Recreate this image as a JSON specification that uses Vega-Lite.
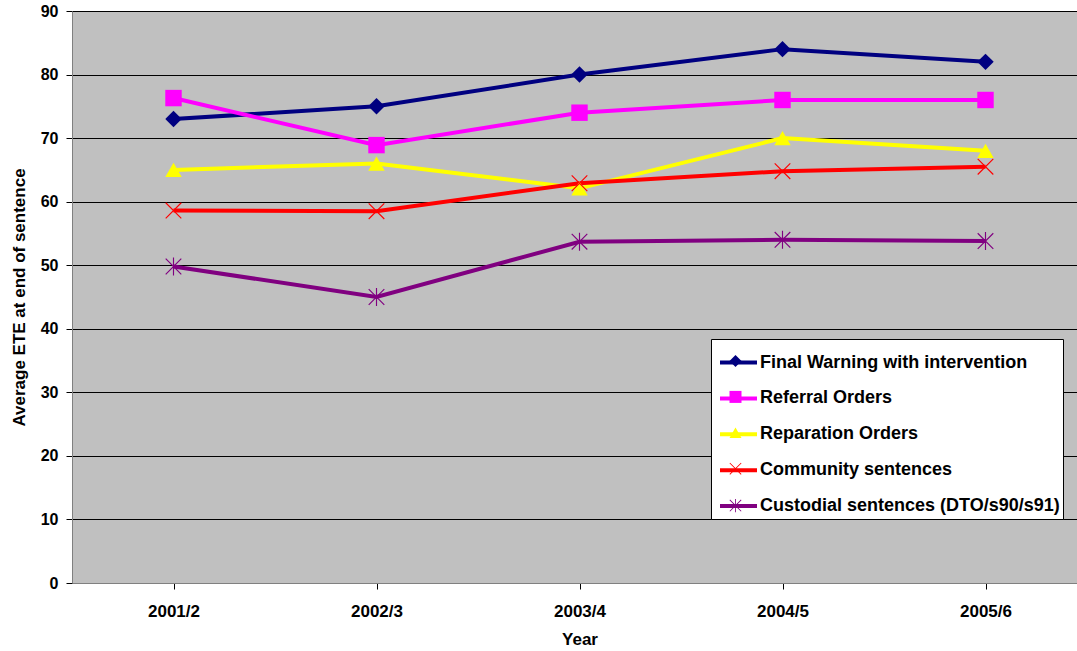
{
  "$schema": "https://vega.github.io/schema/vega-lite/v6.json",
  "autosize": "none",
  "padding": {"left": 72, "top": 11, "right": 0, "bottom": 68},
  "width": 1015,
  "height": 572,
  "background": "white",
  "config": {
    "view": {"fill": "#C0C0C0", "stroke": null},
    "font": "Liberation Sans"
  },
  "data": {
    "values": [
      {"year": "2001/2", "series": "Final Warning with intervention", "value": 73},
      {"year": "2002/3", "series": "Final Warning with intervention", "value": 75},
      {"year": "2003/4", "series": "Final Warning with intervention", "value": 80},
      {"year": "2004/5", "series": "Final Warning with intervention", "value": 84},
      {"year": "2005/6", "series": "Final Warning with intervention", "value": 82},
      {"year": "2001/2", "series": "Referral Orders", "value": 76.3},
      {"year": "2002/3", "series": "Referral Orders", "value": 68.9},
      {"year": "2003/4", "series": "Referral Orders", "value": 74},
      {"year": "2004/5", "series": "Referral Orders", "value": 76},
      {"year": "2005/6", "series": "Referral Orders", "value": 76},
      {"year": "2001/2", "series": "Reparation Orders", "value": 65},
      {"year": "2002/3", "series": "Reparation Orders", "value": 66},
      {"year": "2003/4", "series": "Reparation Orders", "value": 62.1},
      {"year": "2004/5", "series": "Reparation Orders", "value": 70},
      {"year": "2005/6", "series": "Reparation Orders", "value": 68},
      {"year": "2001/2", "series": "Community sentences", "value": 58.6},
      {"year": "2002/3", "series": "Community sentences", "value": 58.5},
      {"year": "2003/4", "series": "Community sentences", "value": 62.9},
      {"year": "2004/5", "series": "Community sentences", "value": 64.8},
      {"year": "2005/6", "series": "Community sentences", "value": 65.5},
      {"year": "2001/2", "series": "Custodial sentences (DTO/s90/s91)", "value": 49.8},
      {"year": "2002/3", "series": "Custodial sentences (DTO/s90/s91)", "value": 45},
      {"year": "2003/4", "series": "Custodial sentences (DTO/s90/s91)", "value": 53.7},
      {"year": "2004/5", "series": "Custodial sentences (DTO/s90/s91)", "value": 54},
      {"year": "2005/6", "series": "Custodial sentences (DTO/s90/s91)", "value": 53.8}
    ]
  },
  "encoding": {
    "x": {
      "field": "year", "type": "nominal",
      "scale": {"paddingInner": 0, "paddingOuter": 0},
      "axis": {
        "title": "Year", "labelAngle": 0, "bandPosition": 0,
        "labelFont": "Liberation Sans", "labelFontSize": 17, "labelFontWeight": "bold", "labelColor": "black",
        "titleFont": "Liberation Sans", "titleFontSize": 17, "titleFontWeight": "bold", "titleColor": "black",
        "domainColor": "#808080", "tickColor": "black", "tickSize": 6, "labelPadding": 14, "titlePadding": 12,
        "grid": false
      }
    },
    "y": {
      "field": "value", "type": "quantitative",
      "scale": {"domain": [0, 90], "nice": false},
      "axis": {
        "title": "Average ETE at end of sentence",
        "values": [0, 10, 20, 30, 40, 50, 60, 70, 80, 90],
        "labelFont": "Liberation Sans", "labelFontSize": 16, "labelFontWeight": "bold", "labelColor": "black",
        "titleFont": "Liberation Sans", "titleFontSize": 17, "titleFontWeight": "bold", "titleColor": "black",
        "domainColor": "#808080", "tickColor": "black", "tickSize": 6, "labelPadding": 8, "titlePadding": 12,
        "grid": true, "gridColor": "black", "gridOpacity": 1, "gridWidth": 1
      }
    }
  },
  "layer": [
    {
      "mark": {"type": "line", "strokeWidth": 4},
      "encoding": {
        "stroke": {
          "field": "series", "type": "nominal",
          "sort": ["Final Warning with intervention", "Referral Orders", "Reparation Orders", "Community sentences", "Custodial sentences (DTO/s90/s91)"],
          "scale": {
            "range": ["#000080", "#FF00FF", "#FFFF00", "#FF0000", "#800080"]
          },
          "legend": {
            "title": null, "orient": "none", "legendX": 639, "legendY": 328,
            "symbolType": "stroke", "symbolSize": 1369, "symbolStrokeWidth": 4,
            "labelFont": "Liberation Sans", "labelFontSize": 18, "labelFontWeight": "bold", "labelColor": "black",
            "labelOffset": 1, "padding": 3, "symbolOffset": 4, "rowPadding": 5.9,
            "fillColor": "white", "strokeColor": "black", "labelLimit": 400
          }
        }
      }
    },
    {
      "mark": {"type": "point", "filled": true, "size": 270, "strokeWidth": 0, "opacity": 1},
      "encoding": {
        "fill": {
          "field": "series", "type": "nominal",
          "scale": {
            "domain": ["Final Warning with intervention", "Referral Orders", "Reparation Orders", "Community sentences", "Custodial sentences (DTO/s90/s91)"],
            "range": ["#000080", "#FF00FF", "#FFFF00", "#FF0000", "#800080"]
          },
          "legend": {
            "title": null, "orient": "none", "legendX": 657.5, "legendY": 344,
            "symbolSize": 144, "symbolStrokeWidth": 0, "symbolOpacity": 1,
            "labelFontSize": 8, "labelOpacity": 0, "labelExpr": "''", "padding": 0, "rowPadding": 23.9
          }
        },
        "shape": {
          "field": "series", "type": "nominal",
          "scale": {
            "domain": ["Final Warning with intervention", "Referral Orders", "Reparation Orders", "Community sentences", "Custodial sentences (DTO/s90/s91)"],
            "range": [
              "diamond", "square", "triangle-up",
              "M-1,-0.9L-0.9,-1L1,0.9L0.9,1Z M0.9,-1L1,-0.9L-0.9,1L-1,0.9Z",
              "M-1,-0.9L-0.9,-1L1,0.9L0.9,1Z M0.9,-1L1,-0.9L-0.9,1L-1,0.9Z M-0.07,-1.1L0.07,-1.1L0.07,1.1L-0.07,1.1Z"
            ]
          },
          "legend": {
            "title": null, "orient": "none", "legendX": 657.5, "legendY": 344,
            "symbolSize": 144, "symbolStrokeWidth": 0, "symbolOpacity": 1,
            "labelFontSize": 8, "labelOpacity": 0, "labelExpr": "''", "padding": 0, "rowPadding": 23.9
          }
        }
      }
    }
  ]
}
